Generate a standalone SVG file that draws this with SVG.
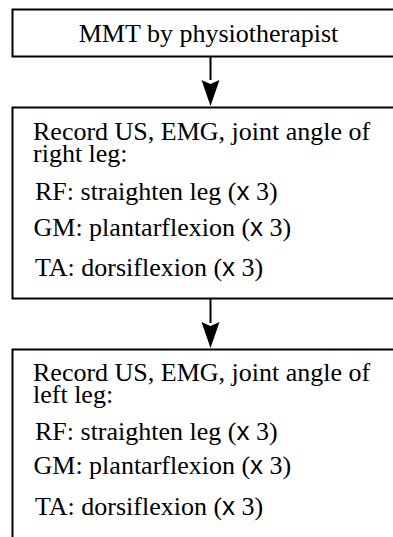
<svg xmlns="http://www.w3.org/2000/svg" width="393" height="537" viewBox="0 0 393 537">
<style>
.box{fill:#fff;stroke:#000;stroke-width:2}
.t{font-family:"Liberation Serif","Times New Roman",serif;font-size:26px;fill:#000}
.x{font-family:"Liberation Sans",Arial,sans-serif}
.conn{stroke:#000;stroke-width:2;fill:none}
.head{fill:#000}
</style>
<g id="connectors">
<path class="conn" d="M210.5,57 V80"/>
<path class="head" d="M201.5,80 L210.5,84 L219.5,80 L210.5,106 Z"/>
<path class="conn" d="M210.5,299 V323"/>
<path class="head" d="M201.5,322 L210.5,326 L219.5,322 L210.5,348 Z"/>
</g>
<g id="n1">
<rect class="box" x="12.5" y="9.5" width="420" height="47"/>
<text class="t" x="208.5" y="42" text-anchor="middle">MMT by physiotherapist</text>
</g>
<g id="n2">
<rect class="box" x="12.5" y="107.5" width="420" height="191"/>
<text class="t"><tspan x="33" y="140">Record US, EMG, joint angle of</tspan><tspan x="33" y="162">right leg:</tspan></text>
<text class="t" x="35" y="200">RF: straighten leg (<tspan class="x">x</tspan> 3)</text>
<text class="t" x="33.5" y="236">GM: plantarflexion (<tspan class="x">x</tspan> 3)</text>
<text class="t" x="35" y="276">TA: dorsiflexion (<tspan class="x">x</tspan> 3)</text>
</g>
<g id="n3">
<rect class="box" x="12.5" y="349.5" width="420" height="220"/>
<text class="t"><tspan x="33" y="381">Record US, EMG, joint angle of</tspan><tspan x="33" y="403">left leg:</tspan></text>
<text class="t" x="35" y="440">RF: straighten leg (<tspan class="x">x</tspan> 3)</text>
<text class="t" x="33.5" y="474">GM: plantarflexion (<tspan class="x">x</tspan> 3)</text>
<text class="t" x="35" y="515">TA: dorsiflexion (<tspan class="x">x</tspan> 3)</text>
</g>
</svg>
